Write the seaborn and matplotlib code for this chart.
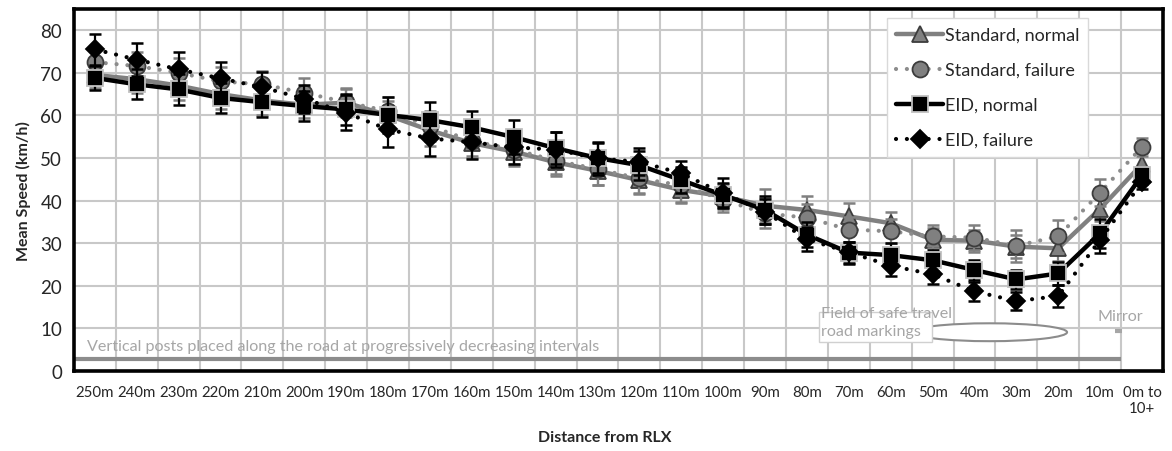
import matplotlib
matplotlib.use("Agg")
import matplotlib.pyplot as plt
import matplotlib.patches as mpatches
import seaborn as sns
import numpy as np

sns.set_style("white")
plt.rcParams['font.family'] = ['Lato', 'DejaVu Sans']

# ---------------- data ----------------
distances = ["250m", "240m", "230m", "220m", "210m", "200m", "190m", "180m", "170m",
             "160m", "150m", "140m", "130m", "120m", "110m", "100m", "90m", "80m",
             "70m", "60m", "50m", "40m", "30m", "20m", "10m", "0m to\n10+"]

std_normal = [69.5, 68.5, 67.0, 65.0, 63.5, 62.5, 63.0, 60.0, 56.5, 53.5, 51.5, 49.0, 47.0,
              44.8, 42.5, 41.0, 38.8, 37.8, 36.3, 34.7, 30.8, 30.6, 29.2, 28.8, 38.1, 48.6]
std_failure = [72.5, 71.6, 70.0, 68.0, 67.3, 65.3, 63.1, 61.0, 57.5, 54.0, 52.0, 49.4, 47.4,
               45.2, 43.6, 40.2, 37.0, 36.0, 33.2, 32.8, 31.6, 31.3, 29.4, 31.6, 41.9, 52.6]
eid_normal = [68.8, 67.3, 66.1, 64.1, 63.1, 62.2, 61.4, 60.1, 58.9, 57.2, 54.9, 52.3, 50.0,
              48.3, 44.8, 41.3, 37.8, 32.0, 27.8, 27.2, 26.0, 23.7, 21.5, 22.9, 32.3, 45.9]
eid_failure = [75.5, 73.1, 70.8, 68.7, 66.6, 63.9, 60.6, 56.7, 54.6, 53.7, 52.5, 52.0, 49.9,
               49.1, 46.4, 41.7, 37.4, 30.9, 27.9, 24.7, 22.7, 18.7, 16.4, 17.6, 30.8, 44.3]

err_std_normal = [3.0, 3.2, 3.3, 3.4, 3.3, 3.2, 3.3, 3.5, 3.6, 3.5, 3.4, 3.3, 3.4,
                  3.2, 3.0, 3.0, 3.9, 3.3, 3.2, 2.7, 2.8, 2.6, 2.7, 3.0, 3.0, 2.5]
err_std_failure = [3.0, 3.2, 3.4, 3.3, 3.1, 3.5, 3.3, 3.4, 3.5, 3.6, 3.4, 3.2, 3.8,
                   3.5, 4.0, 2.8, 3.5, 3.2, 3.0, 2.8, 2.7, 3.0, 3.7, 3.8, 3.2, 2.2]
err_eid_normal = [2.8, 3.5, 3.7, 3.5, 3.5, 3.6, 3.7, 4.2, 4.2, 3.9, 4.0, 3.8, 3.6,
                  3.4, 3.0, 2.9, 3.2, 3.0, 2.6, 2.8, 2.5, 2.3, 2.2, 2.8, 3.5, 2.0]
err_eid_failure = [3.6, 3.8, 4.0, 3.8, 3.6, 3.3, 4.1, 4.0, 4.2, 3.9, 3.9, 4.0, 3.9,
                   3.2, 2.8, 3.5, 3.0, 2.8, 2.5, 2.4, 2.3, 2.3, 2.1, 2.5, 3.1, 1.5]

xpos = np.arange(len(distances))

fig = plt.figure(figsize=(11.72, 4.52), dpi=100)
ax = fig.add_axes([0.0631, 0.177, 0.9292, 0.801])

dot = (0, (0.01, 2.6))
series = [
    ("Standard, normal", std_normal, err_std_normal, "#808080", "-", "^", 11, "#808080", "#3c3c3c", 3.2),
    ("Standard, failure", std_failure, err_std_failure, "#8c8c8c", dot, "o", 11.5, "#808080", "#3c3c3c", 3.0),
    ("EID, normal", eid_normal, err_eid_normal, "black", "-", "s", 12, "black", "#c0c0c0", 3.2),
    ("EID, failure", eid_failure, err_eid_failure, "black", dot, "D", 9.5, "black", "black", 3.0),
]

for k, (name, vals, errs, col, ls, mk, ms, mfc, mec, lw) in enumerate(series):
    ecol = "#808080" if name.startswith("Standard") else "black"
    ax.errorbar(xpos, vals, yerr=errs, fmt="none", ecolor=ecol, elinewidth=1.6,
                capsize=4, capthick=1.8, zorder=3 + 2 * k)
    sns.lineplot(x=xpos, y=vals, ax=ax, color=col, linestyle=ls, lw=lw,
                 marker=mk, markersize=ms, markerfacecolor=mfc, markeredgecolor=mec,
                 markeredgewidth=1.3, dash_capstyle="round", label=name,
                 zorder=4 + 2 * k)

# annotations drawn on the chart
ax.plot([-0.5, 24.5], [2.8, 2.8], color="#8c8c8c", lw=3, zorder=2.5, solid_capstyle="butt")
ax.text(-0.19, 5.9, "Vertical posts placed along the road at progressively decreasing intervals",
        color="#a6a6a6", fontsize=11.6, va="center", ha="left", zorder=2.6)
ax.add_patch(mpatches.Ellipse((21.36, 9.1), 3.7, 4.2, facecolor="white",
                              edgecolor="#8c8c8c", lw=1.5, zorder=2.6))
ax.add_patch(mpatches.Rectangle((17.28, 6.75), 2.7, 7.05, facecolor="white",
                                edgecolor="#d0d0d0", lw=1.0, zorder=2.7))
ax.text(17.33, 11.5, "Field of safe travel\nroad markings", color="#a6a6a6",
        fontsize=11.6, va="center", ha="left", linespacing=1.3, zorder=2.8)
ax.text(24.49, 12.9, "Mirror", color="#a6a6a6", fontsize=11.6, va="center",
        ha="center", zorder=2.8)
ax.plot([24.35, 24.53], [9.35, 9.35], color="#a6a6a6", lw=3, zorder=2.8,
        solid_capstyle="butt")

# axes
ax.set_xlim(-0.5, len(distances) - 0.5)
ax.set_ylim(0, 85)
ax.set_yticks(range(0, 81, 10))
ax.set_xticks(np.arange(-0.5, len(distances), 1.0))
ax.set_xticklabels([])
ax.set_xticks(xpos, minor=True)
ax.set_xticklabels(distances, minor=True, fontsize=10.8)
ax.tick_params(axis="x", which="minor", length=0, pad=10)
ax.tick_params(axis="x", which="major", direction="inout", length=7, width=2.6, color="black")
ax.tick_params(axis="y", which="major", direction="inout", length=9, width=2.6,
               color="black", labelsize=13.5, pad=4)
ax.grid(True, which="major", color="#c8c8c8", lw=1.5, zorder=0)
ax.set_axisbelow(True)
for sp in ax.spines.values():
    sp.set_color("black")
    sp.set_linewidth(2.6)

ax.set_xlabel("Distance from RLX", fontsize=11.5, fontweight="bold")
ax.xaxis.set_label_coords(0.4876, -0.162)
ax.set_ylabel("Mean Speed (km/h)", fontsize=11.5, fontweight="bold", labelpad=7)

leg = ax.legend(loc="upper left", bbox_to_anchor=(0.7466, 0.975), fontsize=13,
                frameon=True, fancybox=False, edgecolor="#d9d9d9", framealpha=1,
                handlelength=2.6, handletextpad=0.1, labelspacing=1.05,
                borderpad=0.5, borderaxespad=0)
leg.set_zorder(20)
leg.get_frame().set_linewidth(1.0)

fig.savefig("out.png", dpi=100)
